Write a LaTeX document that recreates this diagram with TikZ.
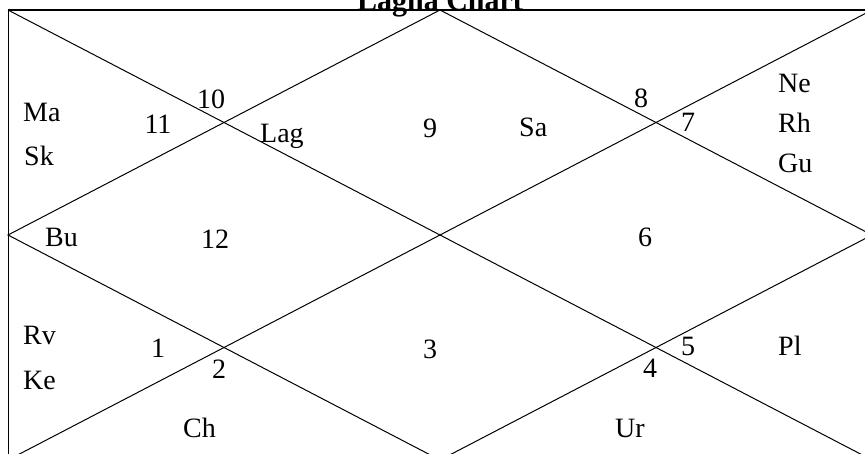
\documentclass[tikz,border=0pt]{standalone}
\usepackage{fontspec}
\setmainfont{Liberation Serif}
\tikzset{
  chartline/.style={line width=1pt},
  planet/.style={anchor=base west, inner sep=0pt, font=\fontsize{28}{32}\selectfont},
  house/.style={anchor=base, inner sep=0pt, font=\fontsize{28}{32}\selectfont},
}
\begin{document}
\begin{tikzpicture}[x=1pt,y=-1pt]
	\useasboundingbox (0,0) rectangle (865,453);
	\clip (0,0) rectangle (865,453);
	% frame and title
	\node [anchor=base, inner sep=0pt, font=\fontsize{30}{34}\selectfont\bfseries] (title) at (440,10) {Lagna Chart};
	\draw [chartline] (8,10) rectangle (872,460);
	\draw [line width=1.8pt] (8,10) -- (872,10);
	% diagonals and diamond
	\draw [chartline] (8,10) -- (872,460);
	\draw [chartline] (8,460) -- (872,10);
	\draw [chartline] (440,10) -- (872,235) -- (440,460) -- (8,235) -- cycle;
	
	% house numbers
	\node [house] (h1) at (158,357) {1};
	\node [house] (h2) at (219,378) {2};
	\node [house] (h3) at (430,358) {3};
	\node [house] (h4) at (650,377) {4};
	\node [house] (h5) at (688,355) {5};
	\node [house] (h6) at (645,246) {6};
	\node [house] (h7) at (688,131) {7};
	\node [house] (h8) at (641,107) {8};
	\node [house] (h9) at (430,137) {9};
	\node [house] (h10) at (211,108) {10};
	\node [house] (h11) at (158,133) {11};
	\node [house] (h12) at (215,248) {12};
	
	% planets
	\node [planet] (ma) at (23,121) {Ma};
	\node [planet] (sk) at (24,165) {Sk};
	\node [planet] (lag) at (260,142) {Lag};
	\node [planet] (sa) at (519,136) {Sa};
	\node [planet] (ne) at (778,92) {Ne};
	\node [planet] (rh) at (778,132) {Rh};
	\node [planet] (gu) at (778,172) {Gu};
	\node [planet] (bu) at (45,246) {Bu};
	\node [planet] (rv) at (23,344) {Rv};
	\node [planet] (ke) at (23,389) {Ke};
	\node [planet] (pl) at (778,355) {Pl};
	\node [planet] (ch) at (183,437) {Ch};
	\node [planet] (ur) at (615,437) {Ur};
\end{tikzpicture}
\end{document}
